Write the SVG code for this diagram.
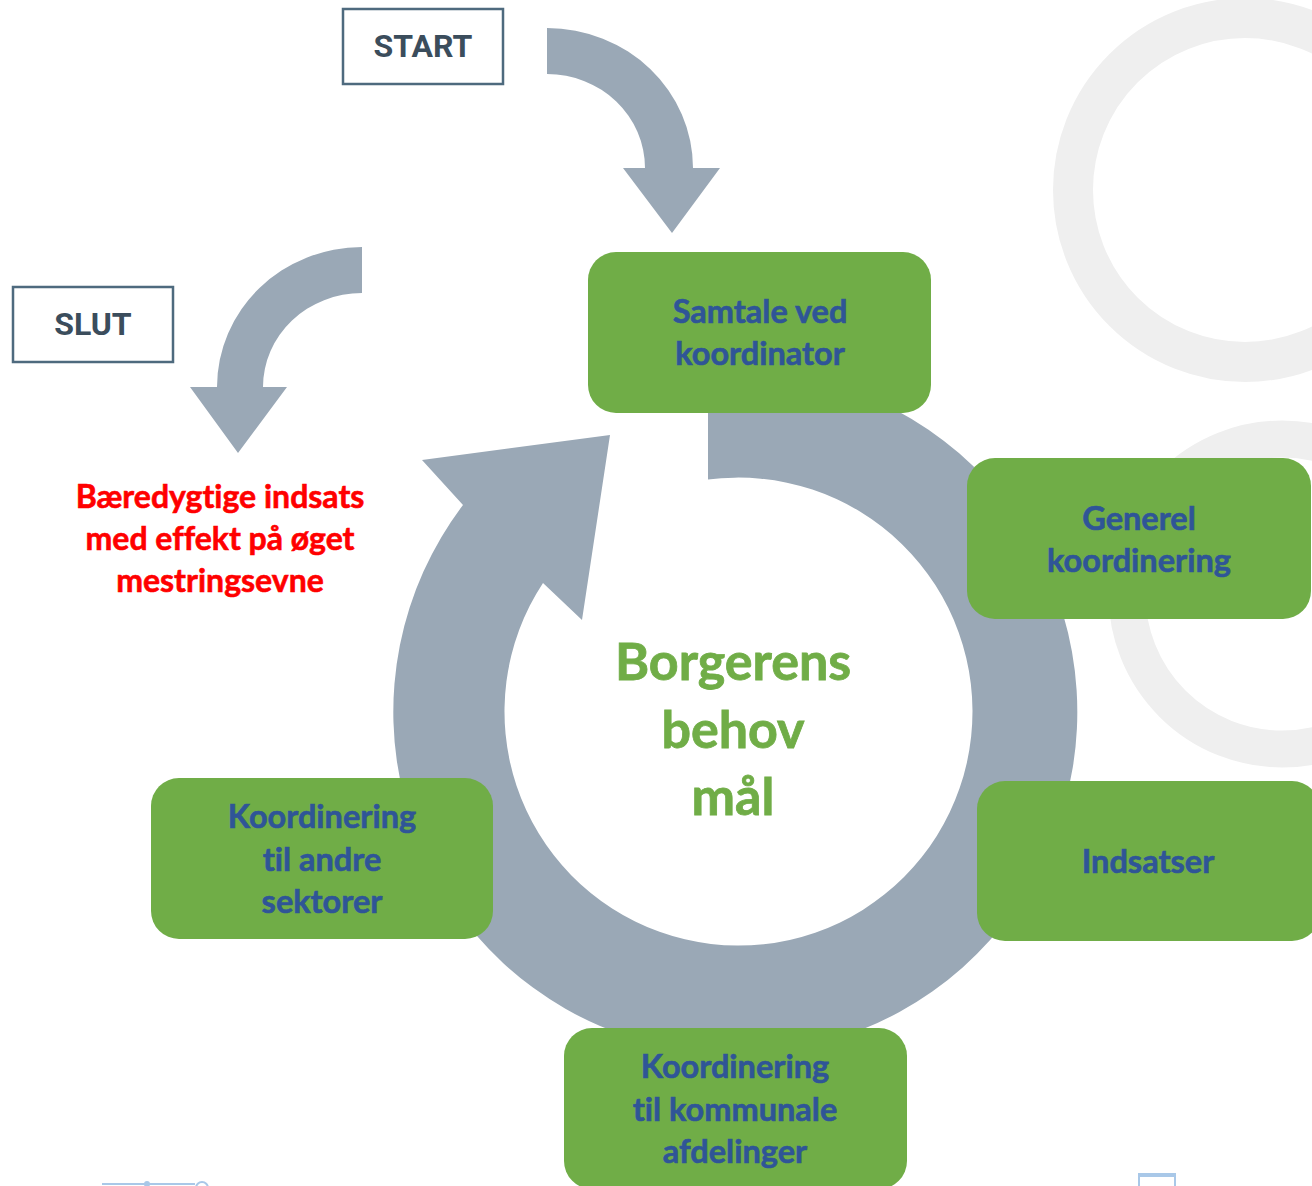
<svg xmlns="http://www.w3.org/2000/svg" width="1312" height="1186" viewBox="0 0 1312 1186">
  <style>
    .bg-ring { fill: none; stroke: #EFEFEF; }
    .flow { fill: #9AA8B6; }
    .node { fill: #70AD47; }
    text { font-variant-ligatures: none; }
    .label { font-family: "Lato", "Liberation Sans", sans-serif; font-weight: 700; font-size: 32.5px; fill: #2F5597; stroke: #2F5597; stroke-width: 0.6; text-anchor: middle; }
    .tag-box { fill: #FFFFFF; stroke: #4E6A7E; stroke-width: 2.5; }
    .tag { font-family: "Roboto", "Liberation Sans", sans-serif; font-weight: 700; font-size: 32px; fill: #3B4D5C; text-anchor: middle; }
    .core { font-family: "Lato", "Liberation Sans", sans-serif; font-weight: 700; font-size: 52px; fill: #70AD47; stroke: #70AD47; stroke-width: 0.8; text-anchor: middle; }
    .outcome { font-family: "Lato", "Liberation Sans", sans-serif; font-weight: 700; font-size: 32px; fill: #FF0000; stroke: #FF0000; stroke-width: 0.6; text-anchor: middle; }
    .frag { fill: none; stroke: #A9C8E8; stroke-width: 2; }
  </style>

  <rect width="1312" height="1186" fill="#FFFFFF"/>

  <!-- faint background logo rings -->
  <g id="background">
    <circle class="bg-ring" cx="1245" cy="190" r="172" stroke-width="40"/>
    <circle class="bg-ring" cx="1282" cy="594" r="155" stroke-width="37"/>
  </g>

  <!-- arrows: start arrow, end arrow and the cycle ring -->
  <g id="connectors">
    <path id="arrow-start" class="flow" d="M 547 28 A 146 140 0 0 1 693 168 L 720 168 L 672 233 L 623 168 L 645 168 A 98 94 0 0 0 547 74 Z"/>
    <path id="arrow-end" class="flow" d="M 362 247 A 145 140 0 0 0 217 387 L 190 387 L 238 453 L 287 387 L 263 387 A 99 94 0 0 1 362 293 Z"/>
    <path id="cycle" class="flow" d="M 708 371 A 342 342 0 1 1 463 505 L 422 460 L 610 435 L 582 620 L 543 583 A 234 234 0 1 0 708 479.6 Z"/>
  </g>

  <g id="start">
    <rect class="tag-box" x="343" y="9" width="160" height="75"/>
    <text class="tag" x="423" y="57">START</text>
  </g>

  <g id="slut">
    <rect class="tag-box" x="13" y="287" width="160" height="75"/>
    <text class="tag" x="93" y="335">SLUT</text>
  </g>

  <g id="outcome">
    <text class="outcome" x="220" y="508">Bæredygtige indsats</text>
    <text class="outcome" x="220" y="550">med effekt på øget</text>
    <text class="outcome" x="220" y="592">mestringsevne</text>
  </g>

  <g id="core">
    <text class="core" x="733" y="680">Borgerens</text>
    <text class="core" x="733" y="748">behov</text>
    <text class="core" x="733" y="815">mål</text>
  </g>

  <g id="samtale">
    <rect class="node" x="588" y="252" width="343" height="161" rx="28"/>
    <text class="label" x="760" y="323">Samtale ved</text>
    <text class="label" x="760" y="365">koordinator</text>
  </g>

  <g id="generel">
    <rect class="node" x="967" y="458" width="344" height="161" rx="28"/>
    <text class="label" x="1139" y="530">Generel</text>
    <text class="label" x="1139" y="572">koordinering</text>
  </g>

  <g id="indsatser">
    <rect class="node" x="977" y="781" width="343" height="160" rx="28"/>
    <text class="label" x="1148" y="873">Indsatser</text>
  </g>

  <g id="kommunale">
    <rect class="node" x="564" y="1028" width="343" height="161" rx="28"/>
    <text class="label" x="735" y="1078">Koordinering</text>
    <text class="label" x="735" y="1121">til kommunale</text>
    <text class="label" x="735" y="1163">afdelinger</text>
  </g>

  <g id="sektorer">
    <rect class="node" x="151" y="778" width="342" height="161" rx="28"/>
    <text class="label" x="322" y="828">Koordinering</text>
    <text class="label" x="322" y="871">til andre</text>
    <text class="label" x="322" y="913">sektorer</text>
  </g>

  <!-- clipped icon fragments along the lower edge -->
  <g id="fragments">
    <line class="frag" x1="102" y1="1184" x2="195" y2="1184"/>
    <circle cx="147" cy="1184" r="3" fill="#A9C8E8"/>
    <circle class="frag" cx="202" cy="1188" r="6"/>
    <path class="frag" d="M 1139 1190 V 1174 H 1175 V 1190"/>
    <rect x="1138" y="1173" width="38" height="4" fill="#A9C8E8"/>
  </g>
</svg>
